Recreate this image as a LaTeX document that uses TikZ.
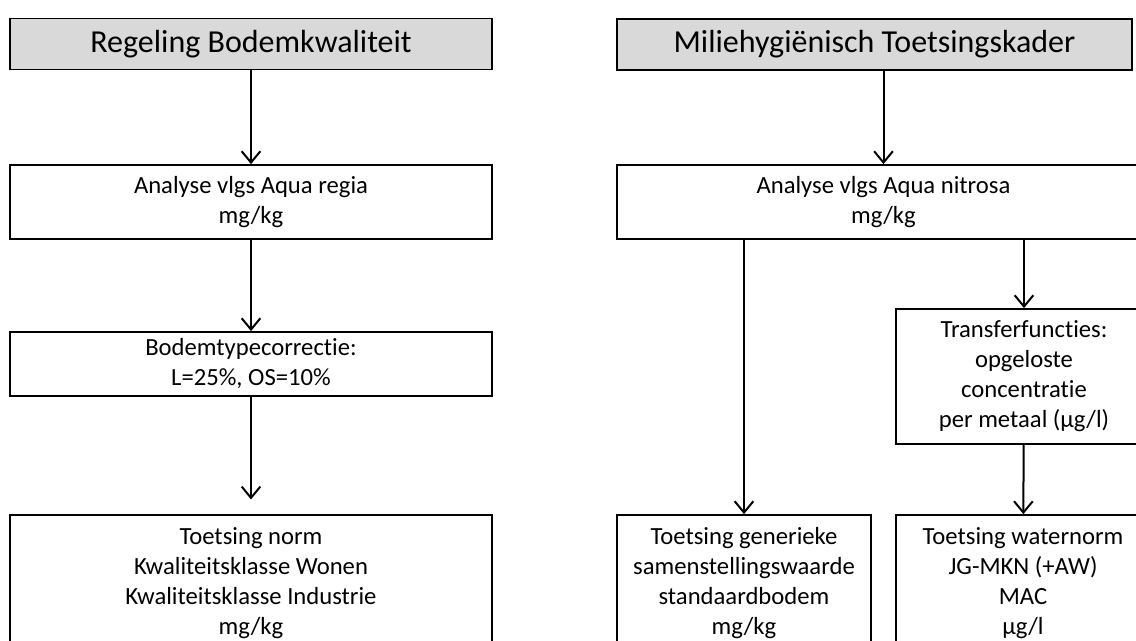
\documentclass[tikz,border=0pt]{standalone}
\usepackage{fontspec}
\setmainfont[Ligatures={NoCommon}]{Carlito}
\usepackage{tikz}
\usetikzlibrary{arrows.meta}
\usetikzlibrary{positioning}

\definecolor{headgray}{HTML}{D9D9D9}

\begin{document}
\begin{tikzpicture}[x=0.75pt, y=-0.75pt, line width=1.5pt,
        -{Straight Barb[length=8.5pt,width=14pt]},
        font=\fontsize{18.5}{22.5}\selectfont,
        box/.style 2 args={draw, -, line width=1.3pt, inner sep=0pt, align=center,
            minimum width=#1*.75pt, minimum height=#2*.75pt},
        head/.style={fill=headgray, font=\fontsize{24}{29}\selectfont}]
        \useasboundingbox (0,0) rectangle (1136,640);

        \node [box={482}{51}, head] (regeling) at (251,44) {Regeling Bodemkwaliteit};
        \node [box={482}{74}] (aquaregia) at (251,202) {Analyse vlgs Aqua regia\\mg/kg};
        \node [box={482}{64}] (bodemtype) at (251,364) {Bodemtypecorrectie:\\L=25\%, OS=10\%};
        \node [box={482}{136}] (klassen) at (251,583) {Toetsing norm\\Kwaliteitsklasse Wonen\\Kwaliteitsklasse Industrie\\mg/kg};

        \node [box={515}{51}, head] (kader) at (874.5,44.5) {Miliehygiënisch Toetsingskader};
        \node [box={533}{74}] (aquanitrosa) at (883.5,202) {Analyse vlgs Aqua nitrosa\\mg/kg};
        \node [box={256}{135}] (transfer) at (1024,376.5) {Transferfuncties:\\opgeloste\\concentratie\\per metaal (µg/l)};
        \node [box={254}{136}] (generiek) at (744,583) {Toetsing generieke\\samenstellingswaarde\\standaardbodem\\mg/kg};
        \node [box={254}{136}] (waternorm) at (1023,583) {Toetsing waternorm\\JG-MKN (+AW)\\MAC\\µg/l};

        \draw (regeling) -- (aquaregia);
        \draw (aquaregia) -- (bodemtype);
        \draw [shorten >=11pt] (bodemtype) -- (klassen);
        \draw (kader.south -| aquanitrosa.north) -- (aquanitrosa.north);
        \draw (aquanitrosa.south -| generiek.north) -- (generiek.north);
        \draw (aquanitrosa.south -| transfer.north) -- (transfer.north);
        \draw (transfer) -- (waternorm);
    \end{tikzpicture}
\end{document}
